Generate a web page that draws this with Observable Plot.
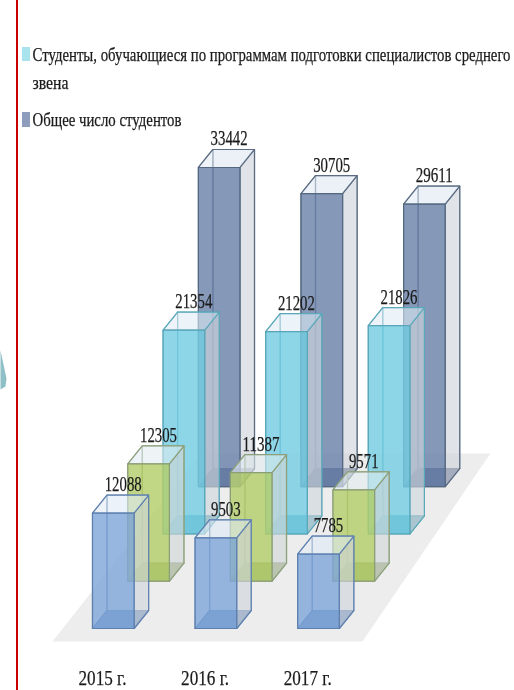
<!DOCTYPE html>
<html><head><meta charset="utf-8">
<script src="https://cdn.jsdelivr.net/npm/d3@7"></script>
<script src="https://cdn.jsdelivr.net/npm/@observablehq/plot@0.6"></script>
<style>html,body{margin:0;padding:0;background:#fff}svg{display:block;filter:blur(.45px)}</style>
</head><body><div id="chart"></div>
<script>
const years = ["2015 г.", "2016 г.", "2017 г."];
const rowFront = [12088, 9503, 7785];
const rowSecond = [12305, 11387, 9571];
const rowThird = [21354, 21202, 21826];
const rowBack = [33442, 30705, 29611];
const legendLabels = ["Студенты, обучающиеся по программам подготовки специалистов среднего", "звена", "Общее число студентов"];

const rowColors = [
  {front: "#7fa6da", edge: "#5d7fae", floor: "#567aae"},
  {front: "#b4ce6a", edge: "#8a9f78", floor: "#86985c"},
  {front: "#74cde2", edge: "#58a6b8", floor: "#4f9db6"},
  {front: "#6a81a9", edge: "#56687f", floor: "#445680"}
];

// Oblique projection: year index i, row r, depth d, value v -> scale units
const W = 514, H = 690;
const pxX = 1 / 102.6, pxY = 104.8;
const rowDx = 35.3 * pxX, rowRise = 47.3 * pxY;
const barW = 41.6 * pxX, depthX = 14.5 * pxX, depthY = 18 * pxY;
const px = p => (p - 92) * pxX;              // page-like helpers for legend, rule and frame furniture
const py = p => (628 - p) * pxY;
const project = (i, r, w, d, v) => ({x: i + r * rowDx + w * barW + d * depthX, y: v + r * rowRise + d * depthY});

const faces = [];
const labels = [];
[rowBack, rowThird, rowSecond, rowFront].forEach((vals, k) => {
  const r = 3 - k, c = rowColors[r];
  vals.forEach((v, i) => {
    const face = (kind, pts, fill, fo, so) => faces.push(...pts.map(([w, d, t]) => ({...project(i, r, w, d, t * v), id: `${r}-${i}-${kind}`, fill, fo, edge: c.edge, so})));
    face("back", [[0,1,0],[1,1,0],[1,1,1],[0,1,1]], c.front, 0.08, 0.9);
    face("left", [[0,0,0],[0,1,0],[0,1,1],[0,0,1]], "#dfe3e8", 0.22, 0.9);
    face("floor", [[0,0,0],[1,0,0],[1,1,0],[0,1,0]], c.floor, 0.85, 0.9);
    face("right", [[1,0,0],[1,1,0],[1,1,1],[1,0,1]], "#d3d7dc", 0.6, 0.9);
    face("top", [[0,0,1],[1,0,1],[1,1,1],[0,1,1]], "#e6eff8", 0.55, 0.9);
    face("front", [[0,0,0],[1,0,0],[1,0,1],[0,0,1]], c.front, 0.8, 1);
    const a = project(i, r, 0.39, 1, v);
    labels.push({x: a.x, y: a.y + 4 * pxY, text: String(v)});
  });
});

// Floor corners as (year index, row)
const floorCorners = [[-0.295, -0.275], [2.726, -0.275], [2.605, 3.7], [-0.22, 3.7]].map(([i, r]) => project(i, r, 0, 0, 0));
const yearLabels = years.map((t, i) => ({x: project(i, 0, 0.24, 0, 0).x, y: py(684), text: t}));
const legendText = [
  {x: px(32), y: py(60), text: legendLabels[0], w: 478},
  {x: px(32), y: py(88), text: legendLabels[1], w: 36},
  {x: px(32), y: py(125), text: legendLabels[2], w: 149}
];
const swatches = [
  {x1: px(22), x2: px(30), y1: py(61), y2: py(47), fill: "#a9e3ee"},
  {x1: px(22), x2: px(30), y1: py(127), y2: py(112), fill: "#8d9dbb"}
];
const arrowTip = [[0,350],[6,378],[5,386],[0,389]].map(([a, b]) => ({x: px(a), y: py(b)}));

const ink = {fill: "#1a1a1a", stroke: "#1a1a1a", strokeWidth: 0.25, fontFamily: "Liberation Serif", lineAnchor: "bottom"};
const plot = Plot.plot({
  width: W, height: H, margin: 0,
  x: {axis: null, domain: [px(0), px(W)], range: [0, W]},
  y: {axis: null, domain: [py(H), py(0)], range: [H, 0]},
  marks: [
    Plot.line(arrowTip, {x: "x", y: "y", fill: "#8fc0c8", stroke: "none"}),
    Plot.ruleX([px(16.5)], {stroke: "#c90000", strokeWidth: 2}),
    Plot.line(floorCorners, {x: "x", y: "y", fill: "#ededee", stroke: "none"}),
    Plot.line(faces, {x: "x", y: "y", z: "id", fill: "fill", fillOpacity: "fo", stroke: "edge", strokeOpacity: "so", strokeWidth: 1.2, curve: "linear-closed"}),
    Plot.rect(swatches, {x1: "x1", x2: "x2", y1: "y1", y2: "y2", fill: "fill"}),
    Plot.text(labels, {...ink, x: "x", y: "y", text: "text", fontSize: 21, className: "val"}),
    Plot.text(yearLabels, {...ink, x: "x", y: "y", text: "text", fontSize: 22, className: "yr"}),
    Plot.text(legendText, {...ink, x: "x", y: "y", text: "text", fontSize: 19, textAnchor: "start", className: "leg"})
  ]
});
document.getElementById("chart").append(plot);

// The reference's type is horizontally condensed
const squeeze = (sel, widthOf) => plot.querySelectorAll(sel + " text").forEach(t => {
  t.setAttribute("textLength", widthOf(t));
  t.setAttribute("lengthAdjust", "spacingAndGlyphs");
});
squeeze(".val", t => t.textContent.length * 7.4);
squeeze(".yr", () => 48);
squeeze(".leg", t => legendText.find(d => d.text === t.textContent).w);
</script></body></html>
